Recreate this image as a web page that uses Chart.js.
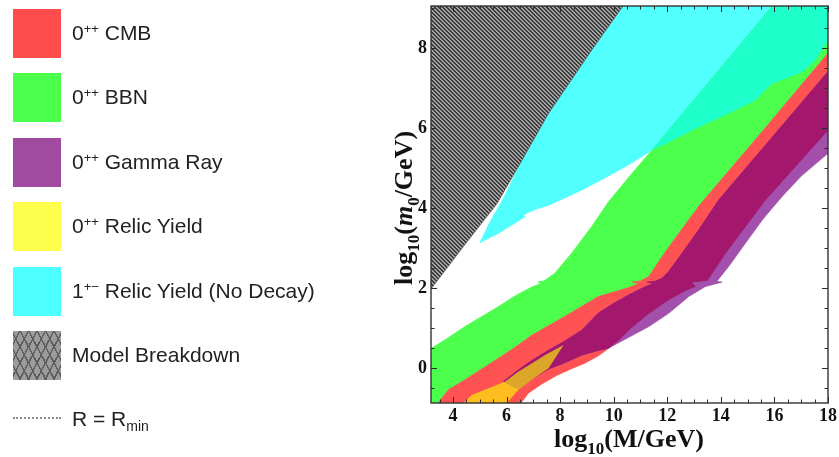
<!DOCTYPE html>
<html>
<head>
<meta charset="utf-8">
<script src="https://cdn.jsdelivr.net/npm/chart.js@4.4.1/dist/chart.umd.min.js"></script>
<style>
  html, body { margin: 0; padding: 0; background: #fff; }
  #wrap { position: relative; width: 839px; height: 457px; overflow: hidden; }
  #plot { position: absolute; left: 0; top: 0; }
  .key { position: absolute; left: 13px; width: 48px; height: 49px; }
  .keyText { position: absolute; left: 72px; font: 21px 'Liberation Sans', Arial, sans-serif; color: #222; line-height: 21px; white-space: nowrap; }
  .keyText sup { font-size: 13px; vertical-align: 7px; line-height: 0; }
  .keyText sub { font-size: 14px; vertical-align: -5px; line-height: 0; }
  .dash { position: absolute; left: 13px; width: 48px; top: 417px; border-top: 2px dotted #8a8a8a; }
  .axisTitle { position: absolute; font: bold 26px 'Liberation Serif', 'Times New Roman', serif; color: #111; white-space: nowrap; line-height: 26px; }
  .axisTitle sub { font-size: 17px; vertical-align: -7px; line-height: 0; }
  #xTitle { left: 629px; top: 426px; transform: translateX(-50%); }
  #yTitle { left: 404px; top: 208px; transform: translate(-50%, -50%) rotate(-90deg); }
</style>
</head>
<body>
<div id="wrap">
  <canvas id="plot" width="839" height="457"></canvas>
  <div id="legend"></div>
  <div class="axisTitle" id="xTitle">log<sub>10</sub>(M/GeV)</div>
  <div class="axisTitle" id="yTitle">log<sub>10</sub>(<i>m</i><sub>0</sub>/GeV)</div>
</div>
<script>
'use strict';

// axis ranges: log10(M/GeV) across, log10(m0/GeV) up
const X_MIN = 3.18, X_MAX = 18;
const Y_MIN = -0.87, Y_MAX = 9.05;
const xTickValues = [4, 6, 8, 10, 12, 14, 16, 18];
const yTickValues = [0, 2, 4, 6, 8];

// region outlines, [log10 M, log10 m0]
const breakdownEdge = [[3.2, 2.0], [4.4, 3.05], [5.65, 4.12], [6.51, 5.12], [7.57, 6.37], [9.18, 7.95], [10.4, 9.1]];

const cyanLeftEdge = [[5.01, 3.14], [5.4, 3.68], [5.85, 4.2], [6.2, 4.68]];
const cyanLowerEdge = [
  [18.3, 8.45], [18, 8.2], [17.53, 7.7], [17.03, 7.41], [16.41, 7.24], [15.91, 7.12], [15.29, 6.7],
  [14.29, 6.37], [13.05, 5.99], [12.2, 5.7], [11.43, 5.45], [10.6, 5.1], [9.8, 4.8], [8.8, 4.45],
  [8.0, 4.2], [7.6, 4.08], [7.0, 3.95], [6.75, 3.87], [6.58, 3.79], [6.7, 3.79], [6.2, 3.58],
  [5.7, 3.37], [5.01, 3.14]
];

const bbnUpperEdge = [
  [3.0, 0.42], [3.2, 0.5], [3.8, 0.75], [4.45, 1.04], [5.3, 1.38], [5.7, 1.54], [6.3, 1.8],
  [6.95, 2.03], [7.3, 2.12], [7.17, 2.16], [7.4, 2.18], [7.8, 2.37], [8.43, 2.87], [9.18, 3.54],
  [9.8, 4.15], [10.6, 4.8], [11.43, 5.45], [16.24, 9.3]
];
const bbnCmbEdge = [
  [18.3, 8.1], [18, 7.87], [15.53, 5.9], [13.24, 4.1], [12.43, 3.37], [11.81, 2.79], [11.31, 2.29],
  [11.0, 2.18], [10.7, 2.15], [10.95, 2.12], [10.6, 2.02], [9.43, 1.79], [8.19, 1.3], [6.94, 0.82],
  [6.32, 0.52], [5.7, 0.25], [4.45, -0.29], [3.83, -0.54], [3.35, -0.95]
];
const cmbLowerEdge = [
  [6.45, -0.95], [6.82, -0.62], [7.3, -0.4], [7.9, -0.17], [8.4, -0.02], [8.9, 0.12], [9.4, 0.3],
  [9.7, 0.44], [10.2, 0.71], [10.6, 0.98], [11.31, 1.37], [12.05, 1.71], [12.7, 1.95], [13.05, 2.04],
  [12.9, 2.15], [13.5, 2.2], [13.67, 2.37], [14.17, 2.87], [14.92, 3.54], [15.66, 4.2], [18, 5.95],
  [18.3, 6.17]
];
const gammaUpperEdge = [
  [18.3, 7.65], [18, 7.41], [13.92, 4.2], [13.17, 3.45], [12.55, 2.87], [12.05, 2.41], [11.81, 2.25],
  [11.55, 2.17], [11.25, 2.15], [11.5, 2.12], [11.19, 2.04], [10.56, 1.83], [10.0, 1.62], [9.43, 1.38],
  [8.81, 0.95], [8.13, 0.66], [7.5, 0.42], [6.94, 0.19], [6.45, -0.04], [5.89, -0.33]
];
const gammaLowerEdge = [
  [5.89, -0.33], [6.2, -0.45], [6.45, -0.52], [6.94, -0.27], [7.57, -0.02], [8.19, 0.14], [8.81, 0.33],
  [9.3, 0.42], [9.8, 0.5], [10.56, 0.77], [11.31, 1.04], [12.05, 1.37], [12.8, 1.79], [13.42, 2.04],
  [13.75, 2.1], [14.04, 2.15], [13.85, 2.17], [14.0, 2.3], [14.29, 2.54], [15.0, 3.2], [15.6, 3.75],
  [16.3, 4.3], [17.0, 4.8], [18, 5.37], [18.3, 5.55]
];
const relicOutline = [
  [4.3, -0.95], [4.45, -0.83], [4.7, -0.67], [5.33, -0.5], [5.95, -0.33], [6.45, -0.08], [6.94, 0.12],
  [7.44, 0.33], [8.13, 0.58], [7.57, 0.0], [6.94, -0.29], [6.45, -0.54], [6.01, -0.87], [5.95, -0.95]
];

// legend entries
const legendLabels = [
  '0<sup>++</sup> CMB', '0<sup>++</sup> BBN', '0<sup>++</sup> Gamma Ray', '0<sup>++</sup> Relic Yield',
  '1<sup>+&minus;</sup> Relic Yield (No Decay)', 'Model Breakdown'
];
const legendColors = ['#ff4d4d', '#4dff4d', '#a04aa0', '#ffff4d', '#4dffff', null];

// closed shapes built from the shared edges
const breakdownShape = [[3.0, 1.83], ...breakdownEdge, [10.55, 9.3], [3.0, 9.3]];
const cyanShape = [...cyanLeftEdge, ...breakdownEdge.slice(3), [10.55, 9.3], [18.3, 9.3], ...cyanLowerEdge];
const tealShape = [...bbnUpperEdge.slice(-2), [18.3, 9.3], ...cyanLowerEdge.slice(0, 11)];
const bbnShape = [[3.0, -0.95], ...bbnUpperEdge, [18.3, 9.3], ...bbnCmbEdge];
const cmbShape = [...bbnCmbEdge, ...cmbLowerEdge];
const gammaShape = [...gammaUpperEdge, ...gammaLowerEdge];
const overlapShape = [
  ...gammaUpperEdge,
  ...gammaLowerEdge.filter(p => p[0] <= 9.8),
  ...cmbLowerEdge.filter(p => p[0] >= 10.2)
];

function toPoints(arr) {
  return arr.map(p => ({x: p[0], y: p[1]}));
}

function hatchPattern() {
  let tile = document.createElement('canvas');
  tile.width = 4;
  tile.height = 4;
  let g = tile.getContext('2d');
  g.fillStyle = '#a4a4a4';
  g.fillRect(0, 0, 4, 4);
  g.fillStyle = '#3a3a3a';
  for (let i = 0; i < 4; i++) {
    g.fillRect(i, i, 1, 1);
    g.fillRect(i, (i + 1) % 4, 1, 1);
  }
  return g.createPattern(tile, 'repeat');
}

function region(label, shape, color, edge) {
  return {
    label: label,
    data: toPoints(shape),
    showLine: true,
    fill: 'shape',
    backgroundColor: color,
    borderColor: edge === undefined ? color : edge,
    borderWidth: edge === null ? 0 : 0.8,
    pointRadius: 0,
    tension: 0
  };
}

// the first dataset ends up on top
let datasets = [
  region('Model Breakdown', breakdownShape, hatchPattern(), '#555'),
  region('0++ Relic Yield', relicOutline, 'rgba(255, 255, 0, 0.62)', null),
  region('CMB + Gamma Ray', overlapShape, '#a3176d'),
  region('0++ Gamma Ray', gammaShape, '#a250ac'),
  region('0++ CMB', cmbShape, '#ff5252'),
  region('BBN + Relic Yield (No Decay)', tealShape, '#1effcb'),
  region('0++ BBN', bbnShape, '#4dff4d'),
  region('1+- Relic Yield (No Decay)', cyanShape, '#52ffff')
];

const tickFont = {family: "'Liberation Serif', 'Times New Roman', serif", size: 18, weight: 'bold'};

// frame with inward major/minor ticks on all four sides
const frameTicks = {
  id: 'frameTicks',
  afterDraw(chart) {
    const {ctx, chartArea: a, scales: {x, y}} = chart;
    ctx.save();
    ctx.strokeStyle = '#2a2a2a';
    ctx.lineWidth = 1;
    ctx.beginPath();
    for (let v = 3.5; v <= X_MAX + 1e-6; v += 0.5) {
      let px = Math.round(x.getPixelForValue(v)) + 0.5;
      let len = Math.abs(v % 2) < 1e-6 ? 6 : 3.5;
      ctx.moveTo(px, a.bottom);
      ctx.lineTo(px, a.bottom - len);
      ctx.moveTo(px, a.top);
      ctx.lineTo(px, a.top + len);
    }
    for (let v = -0.5; v <= Y_MAX; v += 0.5) {
      let py = Math.round(y.getPixelForValue(v)) + 0.5;
      let len = Math.abs(v % 2) < 1e-6 ? 6 : 3.5;
      ctx.moveTo(a.left, py);
      ctx.lineTo(a.left + len, py);
      ctx.moveTo(a.right, py);
      ctx.lineTo(a.right - len, py);
    }
    ctx.stroke();
    ctx.lineWidth = 1.4;
    ctx.strokeStyle = '#333';
    ctx.strokeRect(a.left, a.top, a.right - a.left, a.bottom - a.top);
    ctx.restore();
  }
};

let myChart = new Chart(document.getElementById('plot'), {
  type: 'scatter',
  data: {datasets: datasets},
  options: {
    responsive: false,
    animation: false,
    events: [],
    layout: {padding: {top: 6, right: 11, left: 0, bottom: 0}},
    plugins: {legend: {display: false}, tooltip: {enabled: false}},
    scales: {
      x: {
        type: 'linear',
        min: X_MIN,
        max: X_MAX,
        afterFit: s => {
          s.height = 54;
          s.paddingLeft = 0;
          s.paddingRight = 0;
        },
        afterBuildTicks: s => { s.ticks = xTickValues.map(v => ({value: v})); },
        grid: {display: false, drawTicks: false},
        border: {display: false},
        ticks: {font: tickFont, color: '#111', padding: 3, maxRotation: 0, autoSkip: false}
      },
      y: {
        type: 'linear',
        min: Y_MIN,
        max: Y_MAX,
        afterFit: s => {
          s.width = 431;
          s.paddingTop = 0;
          s.paddingBottom = 0;
        },
        afterBuildTicks: s => { s.ticks = yTickValues.map(v => ({value: v})); },
        grid: {display: false, drawTicks: false},
        border: {display: false},
        ticks: {font: tickFont, color: '#111', padding: 4, autoSkip: false}
      }
    }
  },
  plugins: [frameTicks]
});

// legend on the left
let legendElement = document.getElementById('legend');
for (let i = 0; i < legendLabels.length; i++) {
  let top = 9 + i * 64.4;
  let box = document.createElement('div');
  box.className = 'key';
  box.style.top = top + 'px';
  if (legendColors[i]) {
    box.style.background = legendColors[i];
  } else {
    box.style.background = '#9c9c9c';
    box.style.backgroundImage = 'repeating-linear-gradient(62deg, transparent 0 6px, #5e5e5e 6px 7.5px),' +
      'repeating-linear-gradient(-62deg, transparent 0 6px, #5e5e5e 6px 7.5px)';
  }
  legendElement.appendChild(box);
  let text = document.createElement('div');
  text.className = 'keyText';
  text.style.top = (top + 13) + 'px';
  text.innerHTML = legendLabels[i];
  legendElement.appendChild(text);
}
let dashLine = document.createElement('div');
dashLine.className = 'dash';
legendElement.appendChild(dashLine);
let rText = document.createElement('div');
rText.className = 'keyText';
rText.style.top = '408px';
rText.innerHTML = 'R = R<sub>min</sub>';
legendElement.appendChild(rText);
</script>
</body>
</html>
